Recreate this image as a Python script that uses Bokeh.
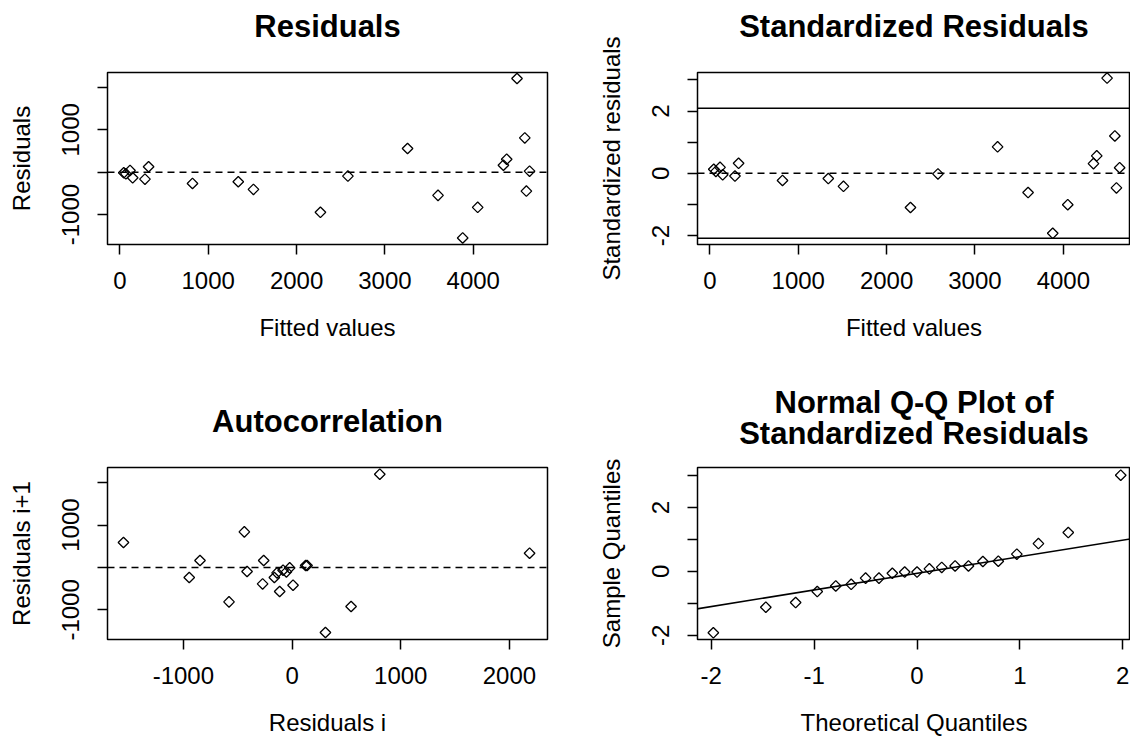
import math
from bokeh.plotting import figure
from bokeh.models import Range1d, FixedTicker, Span, Slope, Title
from bokeh.layouts import column, row
from bokeh.embed import file_html
from bokeh.resources import INLINE

# ---------------- data ----------------
fitted = [44, 68, 115, 145, 284, 325, 822, 1340, 1512, 2270, 2581,
          3256, 3601, 3880, 4050, 4341, 4378, 4495, 4583, 4601, 4637]
residuals = [-15, -40, 40, -133, -165, 127, -266, -227, -407, -948, -93,
             558, -548, -1553, -831, 165, 306, 2212, 809, -447, 24]
std_residuals = [0.13, 0.06, 0.19, -0.05, -0.09, 0.32, -0.23, -0.17, -0.42, -1.10, -0.02,
                 0.85, -0.62, -1.93, -1.01, 0.31, 0.56, 3.06, 1.20, -0.47, 0.18]
std_bounds = [-2.093, 2.093]

resid_i = [-1551, -946, -847, -580, -439, -414, -271, -261, -163, -138, -114,
           -83, -52, -22, 9, 125, 138, 307, 543, 807, 2185]
resid_i1 = [590, -236, 165, -811, 840, -94, -387, 165, -236, -127, -566,
            -64, -104, -9, -417, 47, 47, -1533, -920, 2200, 337]

qq_theoretical = [-1.98, -1.47, -1.18, -0.97, -0.79, -0.64, -0.50, -0.37, -0.24, -0.12, 0.0,
                  0.12, 0.24, 0.37, 0.50, 0.64, 0.79, 0.97, 1.18, 1.47, 1.98]
qq_sample = [-1.92, -1.12, -0.975, -0.63, -0.455, -0.405, -0.21, -0.21, -0.06, -0.02, -0.02,
             0.08, 0.125, 0.17, 0.17, 0.31, 0.32, 0.54, 0.87, 1.215, 3.01]
qq_line_intercept = -0.06
qq_line_slope = 0.52

fitted_ticks = [0, 1000, 2000, 3000, 4000]
resid_ticks = [-1000, 0, 1000, 2000]
resid_tick_labels = ["-1000", "", "1000", ""]
acf_x_ticks = [-1000, 0, 1000, 2000]
acf_x_tick_labels = ["-1000", "0", "1000", "2000"]
std_ticks = [-2, -1, 0, 1, 2, 3]
std_tick_labels = ["-2", "", "0", "", "2", ""]
qq_x_ticks = [-2, -1, 0, 1, 2]
qq_x_tick_labels = ["-2", "-1", "0", "1", "2"]

FONT = "Liberation Sans"
LW = 1.5


def make_fig(width, height, left, right, top, bottom, xr, yr):
    p = figure(width=width, height=height, output_backend="svg", toolbar_location=None,
               x_range=Range1d(*xr), y_range=Range1d(*yr),
               min_border_left=left, min_border_right=right,
               min_border_top=top, min_border_bottom=bottom, title=None)
    p.xgrid.grid_line_color = None
    p.ygrid.grid_line_color = None
    p.outline_line_color = "black"
    p.outline_line_width = LW
    p.outline_line_alpha = 1.0
    p.background_fill_color = "white"
    p.border_fill_color = "white"
    for ax in (p.xaxis[0], p.yaxis[0]):
        ax.axis_line_color = None
        ax.major_tick_in = 0
        ax.major_tick_out = 10
        ax.major_tick_line_width = LW
        ax.major_tick_line_color = "black"
        ax.minor_tick_line_color = None
        ax.major_label_text_font = FONT
        ax.major_label_text_font_size = "24px"
        ax.major_label_text_color = "black"
        ax.axis_label_text_font = FONT
        ax.axis_label_text_font_size = "24px"
        ax.axis_label_text_font_style = "normal"
        ax.axis_label_text_color = "black"
    p.xaxis[0].major_label_standoff = 17
    p.xaxis[0].axis_label_standoff = 22
    p.yaxis[0].major_label_standoff = 18
    p.yaxis[0].axis_label_standoff = 25
    p.yaxis[0].major_label_orientation = "vertical"
    return p


def set_ticks(axis, ticks, labels):
    axis.ticker = FixedTicker(ticks=ticks)
    axis.major_label_overrides = {t: l for t, l in zip(ticks, labels)}


def add_gap(p, px):
    # invisible spacer between the frame and the title
    p.add_layout(Title(text=" ", text_font_size="1px", standoff=px), "above")


def add_title(p, text, standoff=0):
    p.add_layout(Title(text=text, align="center", text_font=FONT, text_font_size="31px",
                       text_font_style="bold", text_color="black", standoff=standoff), "above")


def pts(p, x, y):
    p.scatter(x, y, marker="square", size=7.5, angle=math.pi / 4, fill_color=None,
              line_color="black", line_width=1.3)


TOP1, FH, BOT1 = 72, 172, 130
TOP2, BOT2 = 93, 99
H1 = TOP1 + FH + BOT1
H2 = TOP2 + FH + BOT2

# --- Residuals vs fitted
p1 = make_fig(580, H1, 107, 33, TOP1, BOT1, (-140, 4840), (-1708, 2353))
set_ticks(p1.xaxis[0], fitted_ticks, [str(t) for t in fitted_ticks])
set_ticks(p1.yaxis[0], resid_ticks, resid_tick_labels)
p1.xaxis[0].axis_label = "Fitted values"
p1.yaxis[0].axis_label = "Residuals"
p1.add_layout(Span(location=0, dimension="width", line_color="black", line_width=LW, line_dash="7 5"))
pts(p1, fitted, residuals)
add_gap(p1, 26)
add_title(p1, "Residuals")

# --- Standardized residuals
p2 = make_fig(550, H1, 117, 0, TOP1, BOT1, (-140, 4760), (-2.29, 3.24))
set_ticks(p2.xaxis[0], fitted_ticks, [str(t) for t in fitted_ticks])
set_ticks(p2.yaxis[0], std_ticks, std_tick_labels)
p2.xaxis[0].axis_label = "Fitted values"
p2.yaxis[0].axis_label = "Standardized residuals"
p2.add_layout(Span(location=0, dimension="width", line_color="black", line_width=LW, line_dash="7 5"))
for b in std_bounds:
    p2.add_layout(Span(location=b, dimension="width", line_color="black", line_width=LW))
pts(p2, fitted, std_residuals)
add_gap(p2, 26)
add_title(p2, "Standardized Residuals")

# --- Autocorrelation
p3 = make_fig(580, H2, 107, 33, TOP2, BOT2, (-1698, 2350), (-1698, 2358))
set_ticks(p3.xaxis[0], acf_x_ticks, acf_x_tick_labels)
set_ticks(p3.yaxis[0], resid_ticks, resid_tick_labels)
p3.xaxis[0].axis_label = "Residuals i"
p3.yaxis[0].axis_label = "Residuals i+1"
p3.add_layout(Span(location=0, dimension="width", line_color="black", line_width=LW, line_dash="7 5"))
pts(p3, resid_i, resid_i1)
add_gap(p3, 26)
add_title(p3, "Autocorrelation")

# --- Normal Q-Q
p4 = make_fig(550, H2, 117, 0, TOP2, BOT2, (-2.134, 2.075), (-2.13, 3.25))
set_ticks(p4.xaxis[0], qq_x_ticks, qq_x_tick_labels)
set_ticks(p4.yaxis[0], std_ticks, std_tick_labels)
p4.xaxis[0].axis_label = "Theoretical Quantiles"
p4.yaxis[0].axis_label = "Sample Quantiles"
p4.add_layout(Slope(gradient=qq_line_slope, y_intercept=qq_line_intercept,
                    line_color="black", line_width=LW))
pts(p4, qq_theoretical, qq_sample)
add_gap(p4, 14)
add_title(p4, "Standardized Residuals")
add_title(p4, "Normal Q-Q Plot of", -13)

layout = column(row(p1, p2), row(p3, p4))
open("out.html", "w").write(file_html(layout, INLINE))
